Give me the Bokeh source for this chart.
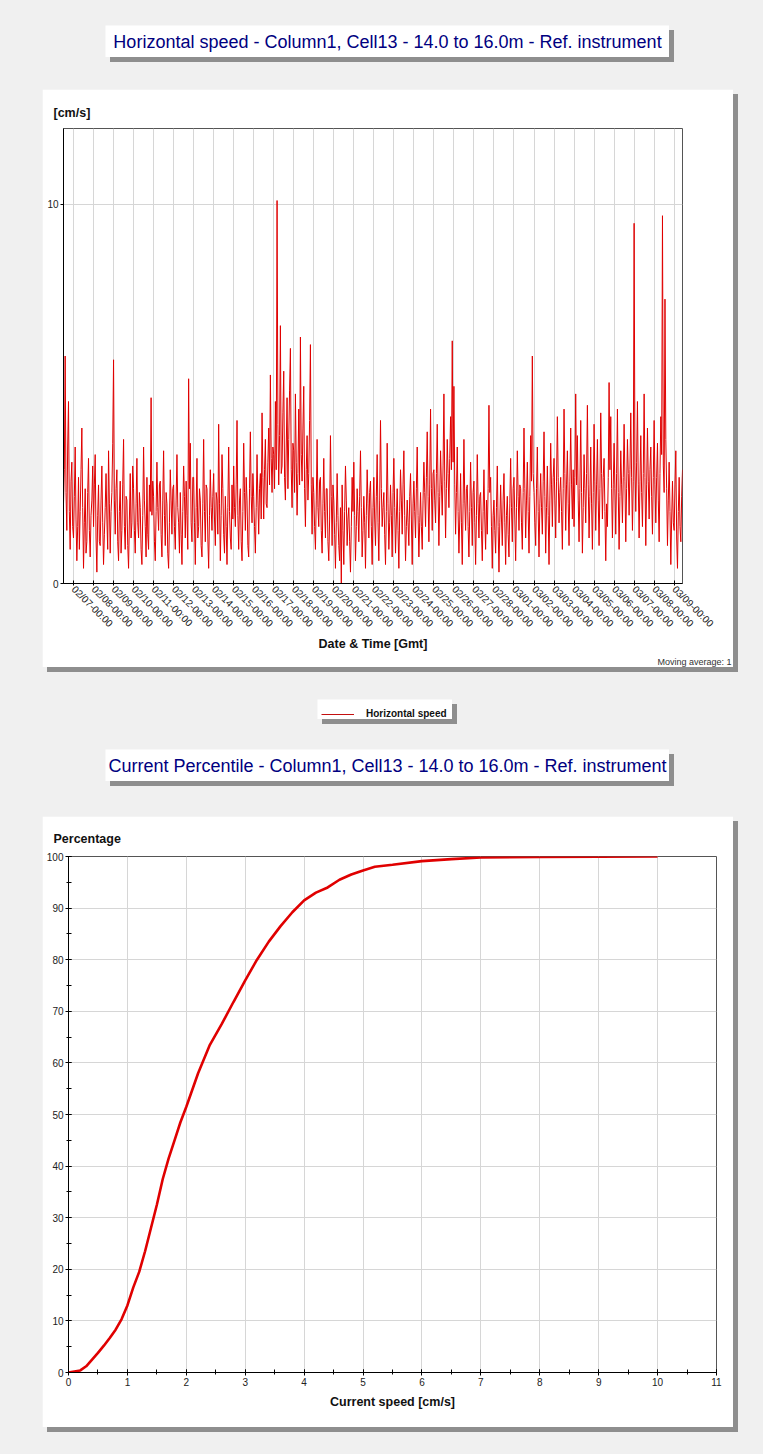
import math
import pandas as pd
from bokeh.plotting import figure
from bokeh.layouts import column
from bokeh.models import (Range1d, FixedTicker, DaysTicker, DatetimeTickFormatter,
                          SingleIntervalTicker, Legend, LegendItem, Title)
from bokeh.core.properties import value
from bokeh.embed import file_html
from bokeh.resources import INLINE

# ---------------- data ----------------
title_top = "Horizontal speed - Column1, Cell13 - 14.0 to 16.0m - Ref. instrument"
title_bottom = "Current Percentile - Column1, Cell13 - 14.0 to 16.0m - Ref. instrument"
series_name = "Horizontal speed"
top_y_label = "[cm/s]"
top_x_label = "Date & Time [Gmt]"
moving_avg_note = "Moving average: 1"
bottom_y_label = "Percentage"
bottom_x_label = "Current speed [cm/s]"

series_start = "2023-02-06 12:00"
sample_step = "1h"
time_axis_end = "2023-03-09 10:00"
top_y_ticks = [0, 10]

# horizontal speed [cm/s], hourly readings, one row per day
horizontal_speed = [
    2.1, 3.0, 6.0, 2.4, 1.4, 3.6, 4.8, 1.9, 0.9, 2.7, 3.2, 1.5,  # 02/06 12h-23h
    1.2, 2.3, 3.6, 1.7, 0.6, 1.5, 2.8, 0.9, 1.9, 3.0, 4.1, 2.0,
    0.4, 1.6, 2.5, 0.8, 1.1, 2.4, 3.3, 1.4, 0.7, 1.8, 2.2, 3.1,  # 02/07
    1.5, 2.6, 3.4, 1.2, 0.3, 1.8, 2.6, 1.1, 1.0, 2.2, 3.1, 1.6,
    0.5, 1.3, 2.0, 2.9, 1.7, 0.9, 3.5, 2.1, 0.8, 1.9, 2.4, 3.7,  # 02/08
    5.9, 2.2, 1.3, 2.5, 3.0, 1.1, 0.6, 1.9, 2.7, 0.8, 1.4, 2.6,
    3.8, 1.5, 0.9, 2.3, 2.2, 1.0, 0.4, 1.7, 2.9, 1.2, 1.6, 3.1,  # 02/09
    2.5, 1.4, 0.8, 2.1, 3.3, 1.6, 1.2, 2.4, 2.0, 0.9, 0.5, 1.8,
    3.6, 2.2, 1.5, 0.7, 2.8, 1.3, 0.9, 2.6, 1.9, 4.9, 1.8, 2.7,  # 02/10
    2.3, 1.1, 0.6, 1.9, 3.2, 2.0, 1.4, 2.6, 2.7, 1.3, 0.7, 2.2,
    3.5, 1.8, 1.0, 2.4, 2.1, 0.8, 0.4, 1.6, 3.0, 2.2, 1.3, 2.5,  # 02/11
    2.6, 1.5, 0.9, 2.2, 3.4, 2.0, 1.6, 0.8, 2.4, 1.3, 0.5, 1.9,
    3.1, 2.3, 1.2, 2.7, 1.8, 0.9, 5.4, 2.5, 3.7, 1.6, 1.1, 2.8,  # 02/12
    2.8, 1.6, 0.5, 2.0, 3.3, 1.2, 1.5, 2.5, 2.2, 1.0, 0.7, 2.1,
    3.8, 1.9, 1.1, 2.6, 2.5, 1.2, 0.4, 1.8, 3.0, 2.0, 1.4, 2.3,  # 02/13
    2.9, 1.7, 1.0, 2.4, 2.2, 1.3, 4.2, 2.1, 0.6, 1.8, 3.4, 2.5,
    1.3, 0.8, 2.3, 1.5, 0.5, 2.0, 3.6, 1.9, 1.2, 0.9, 2.6, 1.7,  # 02/14
    3.1, 2.0, 1.5, 2.6, 4.3, 1.8, 0.9, 2.2, 2.5, 1.1, 0.6, 1.9,
    3.7, 2.4, 1.4, 2.8, 2.2, 1.0, 0.7, 2.5, 4.0, 2.3, 1.6, 2.9,  # 02/15
    2.3, 1.5, 0.8, 2.0, 3.4, 2.2, 1.3, 2.5, 2.9, 1.7, 4.5, 2.8,
    1.7, 3.0, 3.8, 2.1, 2.0, 3.2, 4.1, 2.6, 5.5, 3.3, 2.4, 3.6,  # 02/16
    3.4, 2.5, 4.8, 3.0, 10.1, 4.2, 2.6, 3.9, 6.8, 2.9, 3.1, 4.5,
    5.6, 2.8, 2.2, 3.6, 4.9, 2.5, 3.8, 5.1, 6.2, 3.0, 2.0, 3.7,  # 02/17
    3.5, 2.4, 5.0, 3.2, 1.8, 2.9, 4.6, 2.6, 6.5, 3.4, 2.7, 4.1,
    5.2, 2.5, 1.5, 3.0, 3.9, 2.2, 2.9, 4.3, 6.3, 2.6, 1.3, 2.8,  # 02/18
    2.4, 1.5, 0.9, 2.2, 3.8, 2.0, 1.5, 2.7, 2.8, 1.4, 0.8, 2.1,
    3.3, 1.9, 1.2, 2.5, 2.5, 1.1, 0.6, 1.7, 3.9, 2.3, 1.0, 2.6,  # 02/19
    2.2, 1.3, 0.4, 1.6, 2.9, 1.8, 1.0, 0.6, 2.0, 0.0, 2.6, 1.4,
    0.5, 1.9, 3.1, 2.2, 1.0, 1.7, 2.0, 1.1, 0.3, 1.5, 2.8, 1.9,  # 02/20
    3.2, 1.8, 0.6, 1.5, 2.5, 1.9, 1.1, 2.3, 3.5, 2.0, 0.7, 1.4,
    2.3, 1.6, 0.4, 1.8, 3.0, 2.1, 1.2, 2.4, 2.7, 1.5, 0.5, 2.0,  # 02/21
    2.8, 1.7, 1.0, 2.3, 3.4, 1.6, 0.6, 2.2, 4.3, 2.5, 1.5, 2.0,
    2.4, 1.3, 0.5, 1.9, 3.7, 2.1, 0.9, 1.6, 2.6, 1.8, 0.7, 2.4,  # 02/22
    3.3, 2.0, 0.8, 1.7, 2.5, 1.4, 0.4, 1.9, 3.0, 2.2, 1.3, 2.6,
    3.5, 1.8, 0.6, 1.5, 2.2, 1.6, 1.0, 2.3, 2.9, 1.7, 0.5, 2.1,  # 02/23
    2.7, 1.9, 1.2, 2.5, 3.6, 1.8, 0.7, 1.6, 2.4, 1.5, 0.9, 2.2,
    3.2, 2.4, 1.5, 2.8, 4.0, 2.3, 1.1, 2.6, 4.6, 2.5, 1.4, 2.9,  # 02/24
    3.0, 2.2, 1.6, 2.9, 4.2, 2.4, 1.0, 2.3, 3.5, 2.6, 1.8, 3.1,
    5.0, 2.7, 1.2, 2.5, 3.8, 2.9, 2.0, 3.3, 4.4, 3.0, 6.4, 3.2,  # 02/25
    5.2, 2.6, 1.3, 2.4, 3.6, 1.9, 0.8, 1.7, 2.9, 1.6, 0.5, 2.1,
    3.8, 2.2, 1.4, 2.5, 2.6, 1.5, 0.7, 1.9, 3.2, 2.0, 1.0, 2.4,  # 02/26
    2.7, 1.6, 0.5, 1.8, 3.4, 2.1, 1.2, 2.3, 2.4, 1.4, 0.6, 1.9,
    3.0, 1.7, 0.9, 2.2, 1.3, 2.5, 4.7, 2.4, 2.8, 1.5, 0.4, 1.8,  # 02/27
    2.2, 1.4, 0.8, 2.0, 3.1, 1.5, 0.3, 1.6, 2.6, 1.7, 1.0, 2.2,
    2.9, 1.6, 0.5, 1.8, 2.3, 1.3, 0.7, 2.1, 3.3, 2.0, 1.1, 2.5,  # 02/28
    2.8, 1.7, 0.6, 2.0, 3.5, 2.3, 1.4, 2.6, 2.5, 1.6, 0.9, 2.4,
    4.1, 2.5, 1.2, 2.2, 3.2, 1.9, 0.8, 2.3, 3.9, 2.7, 6.0, 2.9,  # 03/01
    2.4, 1.6, 1.0, 2.5, 3.6, 1.9, 0.7, 2.1, 2.9, 2.0, 1.3, 2.7,
    4.0, 2.3, 0.8, 2.0, 3.1, 1.8, 0.5, 2.2, 3.7, 2.6, 1.5, 2.8,  # 03/02
    3.3, 2.2, 1.2, 2.7, 4.4, 2.8, 1.6, 2.4, 2.8, 1.9, 0.9, 2.5,
    4.6, 2.9, 1.4, 2.6, 3.5, 2.1, 1.0, 2.7, 4.1, 2.6, 1.7, 3.0,  # 03/03
    1.5, 2.8, 5.0, 2.6, 3.9, 2.2, 1.1, 2.5, 4.3, 2.4, 0.8, 2.0,
    3.4, 2.5, 1.6, 2.9, 4.7, 2.6, 1.2, 2.3, 3.6, 2.1, 0.9, 2.4,  # 03/04
    4.2, 2.7, 1.4, 2.6, 3.8, 2.2, 1.0, 2.5, 4.5, 2.9, 1.7, 2.8,
    3.3, 1.9, 0.6, 2.1, 1.5, 2.8, 5.3, 3.0, 4.4, 2.5, 1.2, 2.6,  # 03/05
    3.7, 2.5, 1.3, 2.9, 4.6, 2.4, 0.9, 2.3, 3.5, 2.6, 1.6, 2.8,
    4.2, 2.7, 1.1, 2.5, 3.8, 2.9, 1.8, 3.0, 4.5, 2.8, 1.4, 2.7,  # 03/06
    9.5, 3.1, 1.9, 3.2, 4.8, 2.6, 1.2, 2.7, 3.9, 2.4, 1.5, 2.9,
    5.0, 2.8, 1.0, 2.6, 4.1, 2.7, 1.7, 3.0, 3.6, 2.3, 1.3, 2.8,  # 03/07
    4.3, 2.6, 1.6, 2.8, 3.7, 2.2, 1.1, 2.9, 4.4, 3.4, 9.7, 3.1,
    2.4, 7.5, 3.8, 2.5, 1.0, 2.2, 3.2, 1.9, 0.5, 1.7, 2.7, 1.6,  # 03/08
    1.4, 2.6, 3.5, 1.2, 0.4, 1.9, 2.8, 1.5, 1.1, 2.3, 3.0,       # 03/09 0h-10h
]

# cumulative percentile curve
percentile_speed = [0, 0.1, 0.2, 0.3, 0.4, 0.5, 0.6, 0.7, 0.8, 0.9, 1.0, 1.1, 1.2,
                    1.3, 1.4, 1.5, 1.6, 1.7, 1.8, 1.9, 2.0, 2.2, 2.4, 2.6, 2.8, 3.0,
                    3.2, 3.4, 3.6, 3.8, 4.0, 4.2, 4.4, 4.6, 4.8, 5.0, 5.2, 5.5, 6.0,
                    6.5, 7.0, 8.0, 9.0, 10.0]
percentile_pct = [0, 0.2, 0.4, 1.2, 2.5, 3.8, 5.2, 6.7, 8.3, 10.3, 13.0, 16.5, 19.5,
                  23.5, 28.0, 32.5, 37.5, 41.5, 45.0, 48.5, 51.5, 58.0, 63.5, 67.5,
                  71.8, 76.0, 80.0, 83.5, 86.5, 89.2, 91.5, 93.0, 94.0, 95.5, 96.5,
                  97.3, 98.0, 98.4, 99.1, 99.5, 99.8, 99.9, 99.95, 100.0]

# ---------------- style ----------------
FONT = "Liberation Sans"
BG = "#f0f0f0"
RED = "#e00000"
GRID = "#d6d6d6"
SHADOW = "5px 5px 0px 0px #8e8e8e"


def band(child, h):
    # one independent page strip (own root => no frame alignment between plots)
    return column(child, width=763, height=h, styles={"background-color": BG})


def bare_fig(w, h):
    f = figure(width=w, height=h, x_range=Range1d(0, 1), y_range=Range1d(0, 1),
               x_axis_location=None, y_axis_location=None, toolbar_location=None,
               output_backend="svg", min_border_left=0, min_border_right=0,
               min_border_top=0, min_border_bottom=0, outline_line_color=None,
               background_fill_color="white", border_fill_color="white")
    f.grid.visible = False
    return f


def banner(text, mtop):
    f = bare_fig(564, 32)
    f.text(x=[0.5], y=[0.5], text=[text], text_align="center", text_baseline="middle",
           text_font=value(FONT), text_font_size="18px", text_color="#000080")
    f.margin = (mtop, 0, 0, 105)
    f.styles = {"box-shadow": SHADOW}
    return f


def style_axes(p):
    for ax in (p.xaxis, p.yaxis):
        ax.axis_line_color = "black"
        ax.major_tick_line_color = "black"
        ax.minor_tick_line_color = "black"
        ax.major_label_text_font = FONT
        ax.major_label_text_font_size = "10px"
        ax.major_label_text_color = "#222222"
        ax.axis_label_text_font = FONT
        ax.axis_label_text_font_style = "bold"
        ax.axis_label_text_font_size = "12.5px"
        ax.axis_label_text_color = "#111111"
    p.title.text_font = FONT
    p.title.text_font_style = "bold"
    p.title.text_font_size = "12.5px"
    p.title.text_color = "#111111"
    p.title.align = "left"
    p.grid.grid_line_color = GRID


# ---------------- top banner ----------------
t1 = banner(title_top, 25)

# ---------------- top chart ----------------
times = pd.date_range(series_start, periods=len(horizontal_speed), freq=sample_step)
p1 = figure(width=691, height=578, x_axis_type="datetime",
            x_range=Range1d(pd.Timestamp(series_start), pd.Timestamp(time_axis_end)),
            y_range=Range1d(0, 12), title=top_y_label,
            toolbar_location=None, output_backend="svg",
            min_border_left=21, min_border_right=51, min_border_top=39, min_border_bottom=84,
            background_fill_color="white", border_fill_color="white",
            outline_line_color="#555555")
p1.line(times, horizontal_speed, line_color=RED, line_width=1)
style_axes(p1)
p1.title.offset = -10
p1.title.standoff = 18
fmt = "%m/%d-%H:%M"
p1.xaxis.ticker = DaysTicker(days=list(range(1, 32)))
p1.xaxis.formatter = DatetimeTickFormatter(days=fmt, months=fmt, hours=fmt, hourmin=fmt,
                                           years=fmt)
p1.xaxis.major_label_orientation = -math.pi / 4
p1.xaxis.major_tick_in = 3
p1.xaxis.major_tick_out = 2
p1.xaxis.major_label_standoff = 2
p1.xaxis.minor_tick_line_color = None
p1.xaxis.axis_label = top_x_label
p1.xaxis.axis_label_standoff = 1
p1.yaxis.ticker = FixedTicker(ticks=top_y_ticks)
p1.yaxis.major_tick_in = 0
p1.yaxis.major_tick_out = 3
p1.yaxis.major_label_standoff = 2
p1.yaxis.minor_tick_line_color = None
p1.add_layout(Title(text=moving_avg_note, align="right", offset=-49, standoff=0,
                    text_font=FONT, text_font_size="9px", text_font_style="normal",
                    text_color="#333333"), "below")
p1.margin = (27, 0, 0, 42)
p1.styles = {"box-shadow": SHADOW}

# ---------------- legend ----------------
lg = bare_fig(135, 20)
dummy = lg.line(x=[5, 6], y=[5, 6], line_color="#c41010", line_width=1)
leg = Legend(items=[LegendItem(label=series_name, renderers=[dummy])], location=(4, 0),
             padding=5, margin=0, spacing=0, glyph_width=33, glyph_height=10,
             label_height=10, label_standoff=12, border_line_color=None,
             background_fill_alpha=0.0, label_text_font=FONT,
             label_text_font_style="bold", label_text_font_size="10px",
             label_text_color="#111111")
lg.add_layout(leg, "center")
lg.margin = (27, 0, 0, 317)
lg.styles = {"box-shadow": SHADOW}

# ---------------- bottom banner ----------------
t2 = banner(title_bottom, 25)

# ---------------- bottom chart ----------------
p2 = figure(width=691, height=611, x_range=Range1d(0, 11), y_range=Range1d(0, 100),
            title=bottom_y_label, toolbar_location=None, output_backend="svg",
            min_border_left=26, min_border_right=17, min_border_top=40, min_border_bottom=55,
            background_fill_color="white", border_fill_color="white",
            outline_line_color="#555555")
p2.line(percentile_speed, percentile_pct, line_color=RED, line_width=2.6)
style_axes(p2)
p2.title.offset = -15
p2.title.standoff = 22
p2.xaxis.ticker = SingleIntervalTicker(interval=1, num_minor_ticks=2)
p2.yaxis.ticker = SingleIntervalTicker(interval=10, num_minor_ticks=2)
for ax in (p2.xaxis, p2.yaxis):
    ax.major_tick_in = 3
    ax.major_tick_out = 3
    ax.minor_tick_in = 3
    ax.minor_tick_out = 2
    ax.major_label_standoff = 2
p2.xaxis.axis_label = bottom_x_label
p2.xaxis.axis_label_standoff = 6
p2.margin = (30, 0, 0, 42)
p2.styles = {"box-shadow": SHADOW}

p = [band(t1, 62), band(p1, 610), band(lg, 52), band(t2, 62), band(p2, 668)]

open("out.html", "w").write(file_html(p, INLINE))
